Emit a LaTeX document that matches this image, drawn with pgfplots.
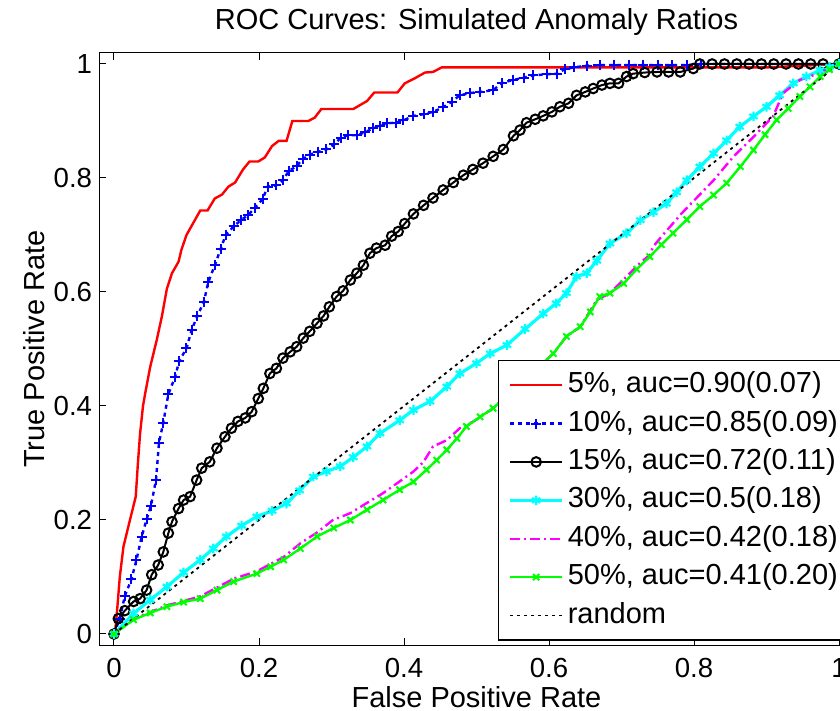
\documentclass[border=0pt]{standalone}
\usepackage{fontspec}
\setmainfont{Liberation Sans}
\usepackage{pgfplots}
\pgfplotsset{compat=1.18}

\definecolor{mred}{rgb}{1,0,0}
\definecolor{mblue}{rgb}{0,0,1}
\definecolor{mcyan}{rgb}{0,1,1}
\definecolor{mmagenta}{rgb}{1,0,1}
\definecolor{mgreen}{rgb}{0,1,0}

\begin{document}
\begin{tikzpicture}
\begin{axis}[
    at={(0,0)}, anchor=south west,
    scale only axis,
    width=377pt, height=296.4pt,
    xmin=-0.02, xmax=1.02,
    ymin=-0.02, ymax=1.02,
    xtick={0,0.2,0.4,0.6,0.8,1},
    ytick={0,0.2,0.4,0.6,0.8,1},
    tick align=inside,
    tick pos=both,
    ticklabel pos=left,
    major tick length=3.5pt,
    every tick/.style={black, line width=0.5pt},
    axis line style={line width=0.6pt},
    /pgf/number format/assume math mode=true,
    tick label style={font=\fontsize{13.8}{16}\selectfont},
    xticklabel style={anchor=base, yshift=-16pt},
    yticklabel style={anchor=east, inner sep=0pt, xshift=-3.5pt},
    every axis title shift=0pt,
    title={ROC Curves: Simulated Anomaly Ratios},
    title style={at={(axis description cs:0.5,1)}, anchor=base, yshift=11.3pt,
        font=\fontsize{14.5}{17}\selectfont},
    xlabel={False Positive Rate},
    xlabel style={at={(axis description cs:0.5,0)}, anchor=base, yshift=-31pt,
        font=\fontsize{14.5}{17}\selectfont},
    ylabel={True Positive Rate},
    ylabel style={at={(axis description cs:-0.0736,0.5)}, anchor=base, rotate=0,
        font=\fontsize{14.5}{17}\selectfont},
    legend cell align=left,
    legend style={at={(axis description cs:0.5285,0.4814)}, anchor=north west,
        draw=black, line width=0.6pt, fill=white,
        inner xsep=5pt, inner ysep=5.5pt,
        font=\fontsize{14.5}{17}\selectfont,
        nodes={inner sep=0pt, text height=10.5pt, text depth=3pt},
        column sep=2pt, row sep=5.7pt},
    legend image code/.code={\draw[mark repeat=2,mark phase=2]
        plot coordinates {(0pt,0pt) (13pt,0pt) (26pt,0pt)};},
]

% 5%
\addplot[color=mred, line width=1.2pt] coordinates {
(0,0) (0.002,0.01) (0.004,0.037) (0.008,0.10) (0.013,0.153) (0.022,0.20)
(0.030,0.241) (0.033,0.30) (0.036,0.352) (0.040,0.40) (0.043,0.422)
(0.050,0.469) (0.059,0.516) (0.066,0.557) (0.073,0.606) (0.080,0.633)
(0.089,0.653) (0.093,0.674) (0.100,0.70) (0.119,0.743) (0.129,0.743)
(0.139,0.764) (0.149,0.771) (0.158,0.785) (0.167,0.792) (0.178,0.815)
(0.187,0.829) (0.199,0.829) (0.208,0.836) (0.218,0.856) (0.227,0.865)
(0.238,0.865) (0.246,0.900) (0.268,0.900) (0.277,0.906) (0.286,0.921)
(0.330,0.921) (0.349,0.935) (0.359,0.950) (0.391,0.950) (0.401,0.966)
(0.415,0.975) (0.429,0.985) (0.440,0.986) (0.452,0.994) (0.90,0.994) (1,1)
};
\addlegendentry{5\%, auc=0.90(0.07)}

% 10%
\addplot[color=mblue, line width=1.2pt, dash pattern=on 2pt off 2pt,
    mark=+, mark size=2.5pt, mark options={solid, line width=1pt}] coordinates {
(0,0) (0.008,0.027) (0.015,0.067) (0.024,0.096) (0.031,0.130) (0.038,0.170)
(0.045,0.201) (0.051,0.225) (0.058,0.271) (0.062,0.335) (0.068,0.371)
(0.075,0.421) (0.084,0.450) (0.090,0.479) (0.100,0.501) (0.107,0.533)
(0.115,0.558) (0.124,0.583) (0.130,0.617) (0.139,0.647) (0.147,0.675)
(0.154,0.700) (0.165,0.715) (0.175,0.726) (0.185,0.735) (0.194,0.747)
(0.205,0.763) (0.212,0.785) (0.223,0.787) (0.233,0.796) (0.241,0.812)
(0.252,0.821) (0.260,0.833) (0.270,0.841) (0.282,0.846) (0.293,0.850)
(0.304,0.859) (0.313,0.871) (0.323,0.875) (0.335,0.875) (0.346,0.880)
(0.357,0.887) (0.367,0.891) (0.376,0.896) (0.389,0.897) (0.399,0.901)
(0.413,0.909) (0.427,0.912) (0.440,0.916) (0.454,0.924) (0.466,0.934)
(0.477,0.945) (0.491,0.949) (0.505,0.951) (0.523,0.954) (0.535,0.967)
(0.551,0.972) (0.565,0.976) (0.578,0.980) (0.597,0.982) (0.611,0.983)
(0.622,0.991) (0.634,0.994) (0.652,0.997) (0.67,0.998) (0.69,0.998)
(0.71,0.998) (0.73,0.998) (0.75,0.998) (0.77,0.998) (0.79,0.998)
(0.81,1) (1,1)
};
\addlegendentry{10\%, auc=0.85(0.09)}

% 15%
\addplot[color=black, line width=1pt,
    mark=o, mark size=2.4pt, mark options={solid, line width=1pt}] coordinates {
(0,0) (0.006,0.027) (0.015,0.041) (0.027,0.057) (0.036,0.062) (0.045,0.077)
(0.052,0.104) (0.061,0.121) (0.068,0.144) (0.075,0.177) (0.080,0.197)
(0.089,0.220) (0.096,0.235) (0.105,0.241) (0.114,0.270) (0.121,0.291)
(0.132,0.302) (0.142,0.326) (0.153,0.346) (0.162,0.361) (0.171,0.373)
(0.181,0.379) (0.190,0.390) (0.199,0.413) (0.206,0.431) (0.215,0.457)
(0.224,0.466) (0.233,0.484) (0.243,0.495) (0.252,0.504) (0.261,0.519)
(0.270,0.531) (0.280,0.545) (0.289,0.558) (0.297,0.574) (0.307,0.592)
(0.316,0.602) (0.326,0.621) (0.335,0.633) (0.344,0.647) (0.353,0.668)
(0.362,0.677) (0.374,0.682) (0.383,0.698) (0.392,0.706) (0.401,0.720)
(0.413,0.737) (0.427,0.752) (0.440,0.765) (0.454,0.779) (0.468,0.792)
(0.482,0.805) (0.495,0.815) (0.509,0.826) (0.523,0.838) (0.537,0.850)
(0.551,0.874) (0.560,0.884) (0.569,0.897) (0.581,0.903) (0.592,0.909)
(0.604,0.916) (0.615,0.925) (0.627,0.931) (0.638,0.945) (0.650,0.951)
(0.661,0.957) (0.673,0.963) (0.684,0.966) (0.696,0.966) (0.707,0.978)
(0.716,0.983) (0.732,0.985) (0.749,0.986) (0.765,0.986) (0.781,0.986)
(0.799,0.992) (0.808,1) (0.825,1) (0.842,1) (0.859,1) (0.876,1) (0.893,1)
(0.910,1) (0.927,1) (0.944,1) (0.961,1) (0.978,1) (1,1)
};
\addlegendentry{15\%, auc=0.72(0.11)}

% 30%
\addplot[color=mcyan, line width=1.6pt,
    mark=asterisk, mark size=2.4pt, mark options={solid, line width=1.1pt}] coordinates {
(0,0) (0.027,0.036) (0.050,0.060) (0.073,0.083) (0.096,0.108) (0.119,0.130)
(0.137,0.150) (0.155,0.171) (0.176,0.190) (0.197,0.206) (0.218,0.216)
(0.238,0.229) (0.256,0.252) (0.275,0.276) (0.293,0.285) (0.312,0.294)
(0.330,0.310) (0.349,0.329) (0.367,0.352) (0.394,0.375) (0.413,0.393)
(0.436,0.408) (0.459,0.434) (0.477,0.457) (0.500,0.475) (0.519,0.492)
(0.542,0.507) (0.567,0.535) (0.592,0.562) (0.610,0.580) (0.624,0.598)
(0.638,0.627) (0.652,0.633) (0.666,0.655) (0.684,0.685) (0.707,0.703)
(0.726,0.726) (0.744,0.740) (0.762,0.755) (0.776,0.775) (0.790,0.796)
(0.808,0.820) (0.827,0.843) (0.845,0.866) (0.863,0.890) (0.882,0.908)
(0.900,0.925) (0.918,0.945) (0.937,0.966) (0.955,0.978) (0.974,0.989)
(0.987,0.995) (1,1)
};
\addlegendentry{30\%, auc=0.5(0.18)}

% 40%
\addplot[color=mmagenta, line width=1.2pt,
    dash pattern=on 5pt off 2pt on 1pt off 2pt] coordinates {
(0,0) (0.027,0.027) (0.073,0.050) (0.119,0.066) (0.165,0.097) (0.197,0.110)
(0.234,0.135) (0.257,0.159) (0.280,0.178) (0.302,0.200) (0.326,0.212)
(0.349,0.230) (0.371,0.247) (0.390,0.264) (0.413,0.285) (0.427,0.302)
(0.440,0.329) (0.459,0.340) (0.477,0.361) (0.496,0.373) (0.523,0.396)
(0.606,0.492) (0.624,0.522) (0.643,0.539) (0.666,0.586) (0.684,0.598)
(0.707,0.627) (0.725,0.650) (0.739,0.665) (0.744,0.680) (0.753,0.694)
(0.783,0.738) (0.827,0.796) (0.854,0.837) (0.882,0.872) (0.909,0.908)
(0.923,0.949) (0.946,0.972) (0.975,0.985) (1,1)
};
\addlegendentry{40\%, auc=0.42(0.18)}

% 50%
\addplot[color=mgreen, line width=1.2pt,
    mark=x, mark size=2.2pt, mark options={solid, line width=1pt}] coordinates {
(0,0) (0.027,0.025) (0.050,0.037) (0.073,0.048) (0.096,0.056) (0.119,0.062)
(0.142,0.077) (0.165,0.092) (0.197,0.106) (0.216,0.118) (0.234,0.130)
(0.257,0.150) (0.280,0.171) (0.303,0.186) (0.326,0.200) (0.349,0.218)
(0.371,0.235) (0.394,0.253) (0.413,0.267) (0.431,0.288) (0.445,0.305)
(0.459,0.323) (0.473,0.343) (0.486,0.364) (0.505,0.381) (0.523,0.396)
(0.606,0.492) (0.624,0.522) (0.643,0.539) (0.657,0.565) (0.670,0.592)
(0.684,0.598) (0.703,0.615) (0.721,0.640) (0.739,0.662) (0.755,0.683)
(0.771,0.703) (0.790,0.727) (0.808,0.750) (0.827,0.770) (0.845,0.791)
(0.864,0.820) (0.882,0.849) (0.898,0.876) (0.914,0.902) (0.930,0.922)
(0.946,0.943) (0.960,0.960) (0.974,0.978) (0.987,0.990) (1,1)
};
\addlegendentry{50\%, auc=0.41(0.20)}

% random
\addplot[color=black, line width=0.9pt, dash pattern=on 1.5pt off 2pt] coordinates {
(0,0) (1,1)
};
\addlegendentry{random}

\end{axis}
\pgfresetboundingbox
\path[use as bounding box] (-49.75pt,-32.8pt) rectangle (370.25pt,322.7pt);
\end{tikzpicture}
\end{document}
